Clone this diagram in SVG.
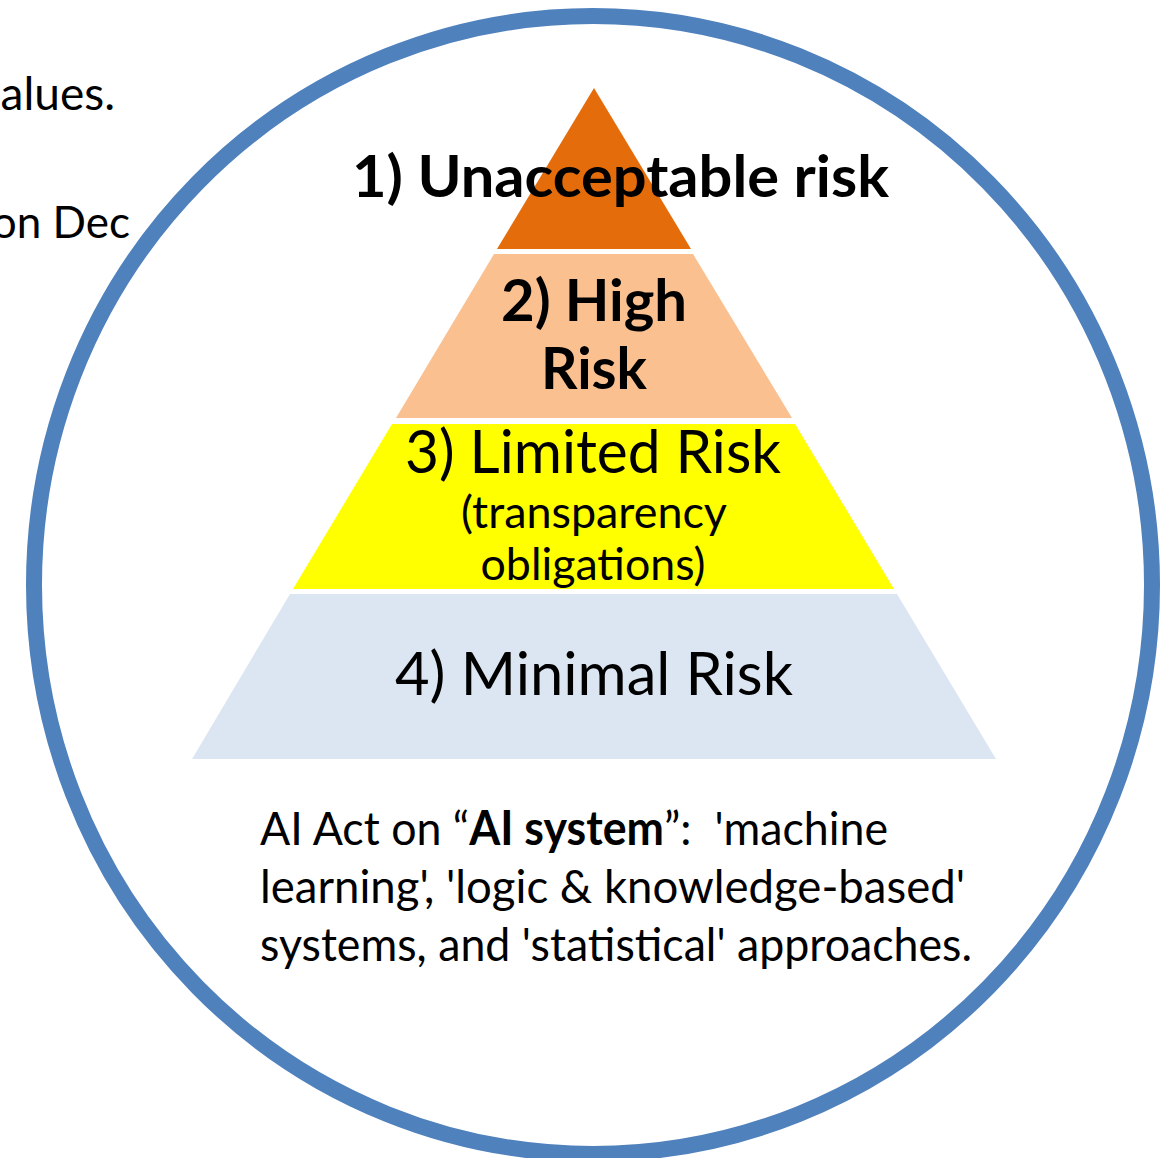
<svg xmlns="http://www.w3.org/2000/svg" width="1169" height="1158" viewBox="0 0 1169 1158">
<style>
.t{font-family:Lato,"Noto Sans","Liberation Sans",sans-serif;fill:#000}
.b{font-weight:bold}
</style>
<rect width="1169" height="1158" fill="#fff"/>
<g id="side-text">
<text class="t" x="115" y="110" font-size="46" text-anchor="end">alues.</text>
<text class="t" x="130" y="238" font-size="44" text-anchor="end">on Dec</text>
</g>
<g id="circle">
<ellipse cx="593" cy="585" rx="559" ry="569" fill="none" stroke="#4F81BD" stroke-width="16"/>
</g>
<g id="tier4">
<polygon points="290,594 897,594 996,759 192,759" fill="#DCE6F2"/>
<text class="t" x="594" y="695" font-size="60" text-anchor="middle" textLength="398" lengthAdjust="spacingAndGlyphs">4) Minimal Risk</text>
</g>
<g id="tier3">
<polygon points="392,424 795,424 894,589 293,589" fill="#FFFF00"/>
<text class="t" x="593" y="473" font-size="60" text-anchor="middle" textLength="376" lengthAdjust="spacingAndGlyphs">3) Limited Risk</text>
<text class="t" x="594" y="528" font-size="44" text-anchor="middle" textLength="266" lengthAdjust="spacingAndGlyphs">(transparency</text>
<text class="t" x="593" y="580" font-size="44" text-anchor="middle" textLength="225" lengthAdjust="spacingAndGlyphs">obligations)</text>
</g>
<g id="tier2">
<polygon points="494,254 693,254 792,418 396,418" fill="#FAC090"/>
<text class="t b" x="594" y="321" font-size="58" text-anchor="middle" textLength="186" lengthAdjust="spacingAndGlyphs">2) High</text>
<text class="t b" x="594" y="389" font-size="58" text-anchor="middle" textLength="106" lengthAdjust="spacingAndGlyphs">Risk</text>
</g>
<g id="tier1">
<polygon points="594,88 691,249 497,249" fill="#E46C0A"/>
<text class="t b" x="620.5" y="197" font-size="58" text-anchor="middle" textLength="537" lengthAdjust="spacingAndGlyphs">1) Unacceptable risk</text>
</g>
<g id="caption">
<text class="t" x="260" y="845" font-size="47" textLength="628" lengthAdjust="spacingAndGlyphs">AI Act on “<tspan class="b">AI system</tspan>”:&#160; 'machine</text>
<text class="t" x="260" y="903" font-size="47" textLength="705" lengthAdjust="spacingAndGlyphs">learning', 'logic &amp; knowledge-based'</text>
<text class="t" x="260" y="961" font-size="47" textLength="712" lengthAdjust="spacingAndGlyphs">systems, and 'statistical' approaches.</text>
</g>
<g id="connectors"/>
</svg>
